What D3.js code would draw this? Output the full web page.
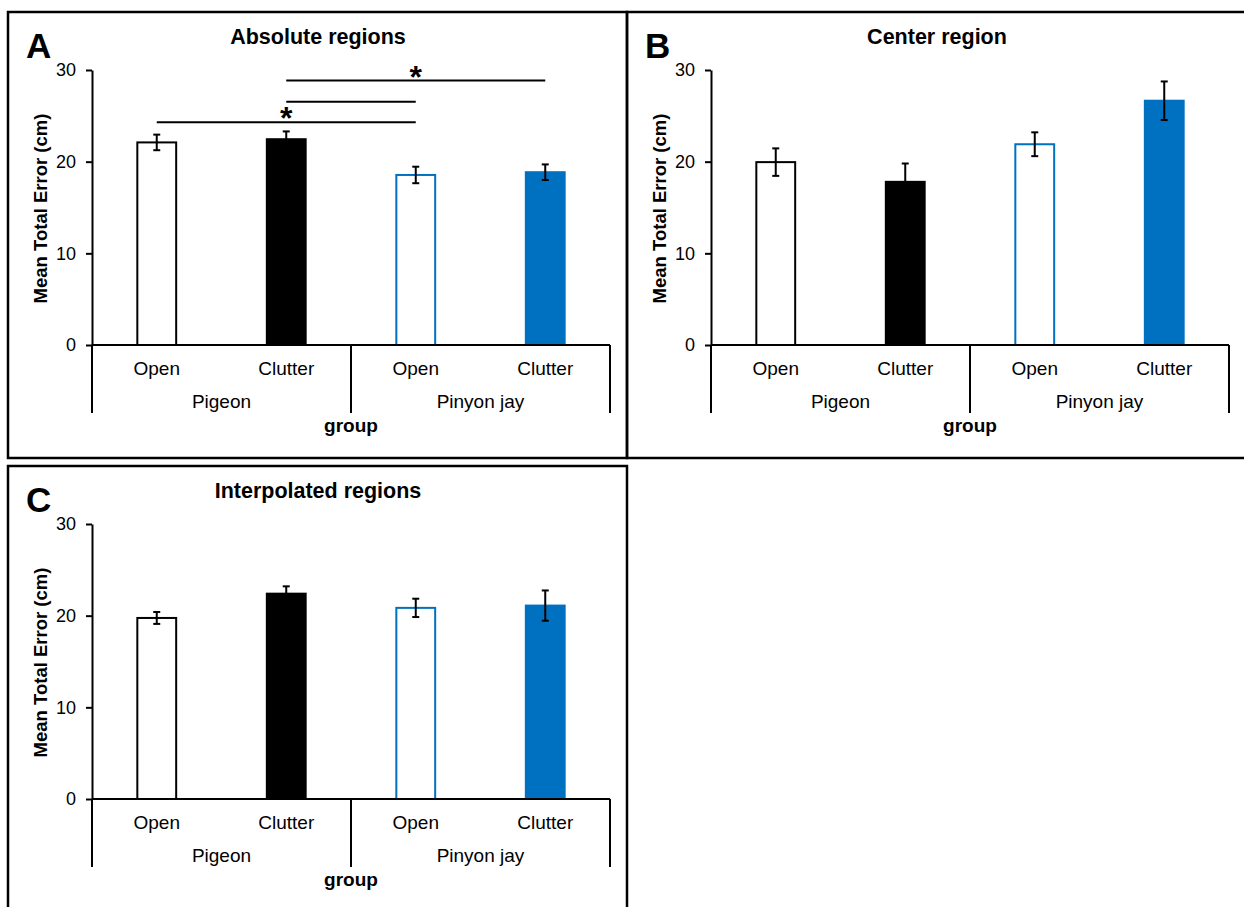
<!DOCTYPE html>
<html>
<head>
<meta charset="utf-8">
<script src="https://cdn.jsdelivr.net/npm/d3@7"></script>
<style>
  body { margin: 0; background: #fff; }
  text { font-family: "Liberation Sans", Arial, sans-serif; fill: #000; }
</style>
</head>
<body>
<div id="chart"></div>
<script>
// data
const conditions = ["Open", "Clutter", "Open", "Clutter"];
const groups = ["Pigeon", "Pinyon jay"];
const yTicks = [0, 10, 20, 30];

const absoluteMeans = [22.1, 22.45, 18.55, 18.85];
const absoluteErr = [0.85, 0.85, 0.9, 0.85];
const centerMeans = [19.95, 17.8, 21.9, 26.65];
const centerErr = [1.5, 2.0, 1.3, 2.1];
const interpMeans = [19.75, 22.4, 20.85, 21.1];
const interpErr = [0.65, 0.8, 1.0, 1.65];

// significance bars for panel A: [from bar, to bar, level, star]
const absoluteSig = [[0, 2, 24.3, true], [1, 2, 26.55, false], [1, 3, 28.85, true]];

const fills = ["#ffffff", "#000000", "#ffffff", "#0070C0"];
const strokes = ["#000000", "#000000", "#0070C0", "#0070C0"];

const width = 1244, height = 907;

const svg = d3.select("#chart")
    .append("svg")
    .attr("width", width)
    .attr("height", height);

// Draw one panel
function drawPanel(ox, oy, letter, title, means, errs, sig) {

    const g = svg.append("g").attr("transform", `translate(${ox},${oy})`);

    // frame
    g.append("rect")
        .attr("x", 0).attr("y", 0)
        .attr("width", 619).attr("height", 446)
        .attr("fill", "none")
        .attr("stroke", "#000")
        .attr("stroke-width", 2.5);

    const plotX = 84, plotY = 58, plotW = 518, plotH = 275;

    const x = d3.scaleBand().domain(d3.range(conditions.length)).range([0, plotW]);
    const y = d3.scaleLinear().domain([0, 30]).range([plotH, 0]);

    const p = g.append("g").attr("transform", `translate(${plotX},${plotY})`);

    // y axis
    const yAxis = p.append("g")
        .call(d3.axisLeft(y).tickValues(yTicks).tickSize(6).tickPadding(10).tickSizeOuter(0));
    yAxis.select(".domain").attr("stroke-width", 2);
    yAxis.selectAll(".tick line").attr("stroke-width", 2);
    yAxis.selectAll(".tick text")
        .attr("font-size", 18)
        .attr("font-family", "Liberation Sans, Arial, sans-serif");

    // bars
    const barW = x.bandwidth() * 0.3;
    p.selectAll(".bar")
        .data(means)
        .enter()
        .append("rect")
        .attr("class", "bar")
        .attr("x", (d, i) => x(i) + x.bandwidth() / 2 - barW / 2)
        .attr("y", d => y(d))
        .attr("width", barW)
        .attr("height", d => y(0) - y(d))
        .attr("fill", (d, i) => fills[i])
        .attr("stroke", (d, i) => strokes[i])
        .attr("stroke-width", 2);

    // error bars
    const cap = 3.5;
    const eb = p.selectAll(".err")
        .data(means)
        .enter()
        .append("g")
        .attr("class", "err")
        .attr("stroke", "#000")
        .attr("stroke-width", 2);
    eb.append("line")
        .attr("x1", (d, i) => x(i) + x.bandwidth() / 2)
        .attr("x2", (d, i) => x(i) + x.bandwidth() / 2)
        .attr("y1", (d, i) => y(d + errs[i]))
        .attr("y2", (d, i) => y(d - errs[i]));
    eb.append("line")
        .attr("x1", (d, i) => x(i) + x.bandwidth() / 2 - cap)
        .attr("x2", (d, i) => x(i) + x.bandwidth() / 2 + cap)
        .attr("y1", (d, i) => y(d + errs[i]))
        .attr("y2", (d, i) => y(d + errs[i]));
    eb.append("line")
        .attr("x1", (d, i) => x(i) + x.bandwidth() / 2 - cap)
        .attr("x2", (d, i) => x(i) + x.bandwidth() / 2 + cap)
        .attr("y1", (d, i) => y(d - errs[i]))
        .attr("y2", (d, i) => y(d - errs[i]));

    // x axis with grouped labels
    p.append("line")
        .attr("x1", 0).attr("x2", plotW)
        .attr("y1", y(0)).attr("y2", y(0))
        .attr("stroke", "#000").attr("stroke-width", 2);

    [0, 2, 4].forEach(k => {
        const xx = k < conditions.length ? x(k) : plotW;
        p.append("line")
            .attr("x1", xx).attr("x2", xx)
            .attr("y1", y(0)).attr("y2", y(0) + 68)
            .attr("stroke", "#000").attr("stroke-width", 2);
    });

    p.selectAll(".cond")
        .data(conditions)
        .enter()
        .append("text")
        .attr("x", (d, i) => x(i) + x.bandwidth() / 2)
        .attr("y", y(0) + 30)
        .attr("text-anchor", "middle")
        .attr("font-size", 19)
        .text(d => d);

    p.selectAll(".grp")
        .data(groups)
        .enter()
        .append("text")
        .attr("x", (d, i) => x(i * 2) + x.bandwidth())
        .attr("y", y(0) + 63)
        .attr("text-anchor", "middle")
        .attr("font-size", 19)
        .text(d => d);

    p.append("text")
        .attr("x", plotW / 2)
        .attr("y", y(0) + 87)
        .attr("text-anchor", "middle")
        .attr("font-size", 19)
        .attr("font-weight", "bold")
        .text("group");

    // y label
    p.append("text")
        .attr("transform", `translate(-45,${plotH / 2 + 1}) rotate(-90)`)
        .attr("text-anchor", "middle")
        .attr("font-size", 18.5)
        .attr("font-weight", "bold")
        .text("Mean Total Error (cm)");

    // title + letter
    g.append("text")
        .attr("x", 310)
        .attr("y", 32)
        .attr("text-anchor", "middle")
        .attr("font-size", 21.5)
        .attr("font-weight", "bold")
        .text(title);

    g.append("text")
        .attr("x", 18)
        .attr("y", 46)
        .attr("font-size", 35)
        .attr("font-weight", "bold")
        .text(letter);

    // significance lines
    if (sig) {
        sig.forEach(s => {
            const x1 = x(s[0]) + x.bandwidth() / 2, x2 = x(s[1]) + x.bandwidth() / 2;
            p.append("line")
                .attr("x1", x1).attr("x2", x2)
                .attr("y1", y(s[2])).attr("y2", y(s[2]))
                .attr("stroke", "#000").attr("stroke-width", 2);
            if (s[3]) {
                p.append("text")
                    .attr("x", (x1 + x2) / 2)
                    .attr("y", y(s[2]) + 7)
                    .attr("text-anchor", "middle")
                    .attr("font-size", 32)
                    .attr("font-weight", "bold")
                    .text("*");
            }
        });
    }
}

drawPanel(8, 12, "A", "Absolute regions", absoluteMeans, absoluteErr, absoluteSig);
drawPanel(627, 12, "B", "Center region", centerMeans, centerErr, null);
drawPanel(8, 466, "C", "Interpolated regions", interpMeans, interpErr, null);
</script>
</body>
</html>
